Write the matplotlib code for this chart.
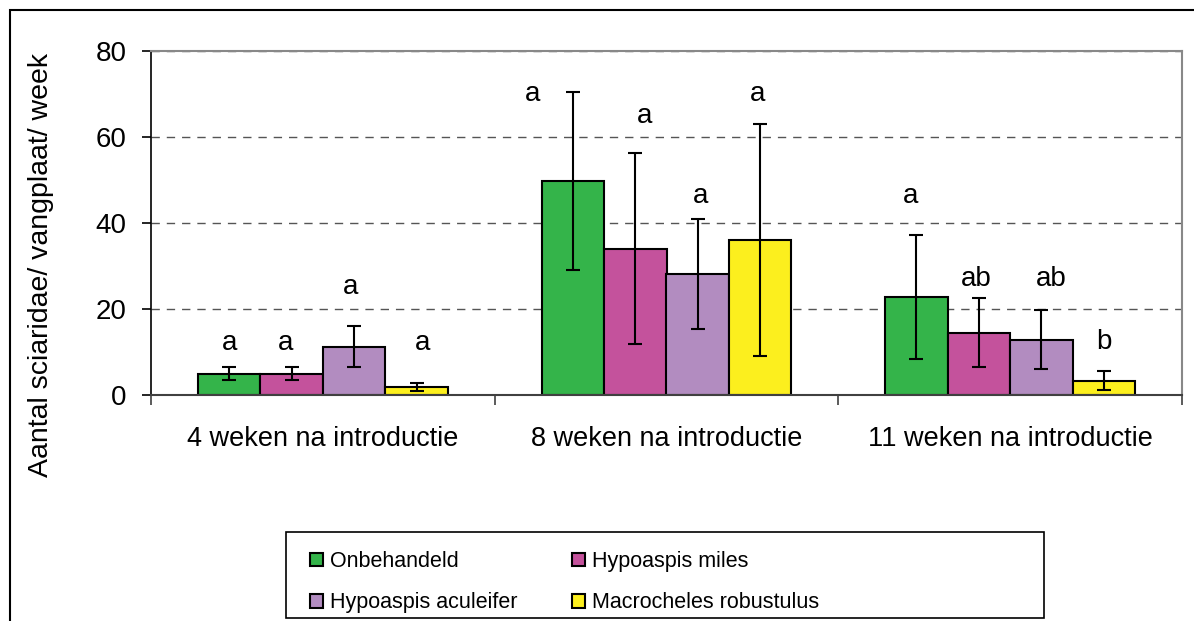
import matplotlib.pyplot as plt
import numpy as np
import matplotlib as mpl
from matplotlib.patches import Rectangle

mpl.rc('font', family=['Liberation Sans', 'DejaVu Sans'], size=20)

# --- data
groups = ['4 weken na introductie', '8 weken na introductie', '11 weken na introductie']
series = ['Onbehandeld', 'Hypoaspis miles', 'Hypoaspis aculeifer', 'Macrocheles robustulus']

onbehandeld = [5.0, 49.7, 22.8]
h_miles = [5.0, 34.0, 14.5]
h_aculeifer = [11.2, 28.1, 12.9]
m_robustulus = [1.8, 36.0, 3.3]

err_onbehandeld = [1.6, 20.7, 14.5]
err_miles = [1.6, 22.2, 8.0]
err_aculeifer = [4.8, 12.8, 6.9]
err_robustulus = [0.9, 27.0, 2.2]

letters_onbehandeld = ['a', 'a', 'a']
letters_miles = ['a', 'a', 'ab']
letters_aculeifer = ['a', 'a', 'ab']
letters_robustulus = ['a', 'a', 'b']

values = [onbehandeld, h_miles, h_aculeifer, m_robustulus]
errors = [err_onbehandeld, err_miles, err_aculeifer, err_robustulus]
letters = [letters_onbehandeld, letters_miles, letters_aculeifer, letters_robustulus]
colors = ['#34B44A', '#C4529C', '#B28CC0', '#FCEF1E']

# letter placement (layout only): x shift in bar widths, baseline height
letter_dx = [[0.0, -0.65, -0.1], [-0.1, 0.15, -0.05], [-0.05, 0.05, 0.15], [0.1, -0.05, 0.0]]
letter_y = [[10.5, 68.4, 44.7], [10.5, 63.2, 25.3], [23.4, 44.7, 25.3], [10.5, 68.4, 10.6]]

fig = plt.figure(figsize=(11.94, 6.21), dpi=100)
ax = fig.add_axes([151 / 1194, 1 - 395 / 621, 1031 / 1194, 344 / 621])

x = np.arange(len(groups))
w = 1 / 5.5
handles = []
for i in range(4):
    xs = x + (i - 1.5) * w
    b = ax.bar(xs, values[i], width=w, color=colors[i], edgecolor='black',
               linewidth=1.5, zorder=2, label=series[i])
    ax.errorbar(xs, values[i], yerr=errors[i], fmt='none', ecolor='black',
                elinewidth=1.5, capsize=5, capthick=1.5, zorder=3)
    handles.append(b)
    for j in range(3):
        ax.text(xs[j] + letter_dx[i][j] * w, letter_y[i][j], letters[i][j],
                ha='center', va='baseline', fontsize=20)

ax.set_xlim(-0.5, 2.5)
ax.set_ylim(0, 80)
ax.set_yticks(np.arange(0, 81, 20))
ax.set_xticks([-0.5, 0.5, 1.5, 2.5])
ax.set_xticklabels([])
ax.set_xticks(x, minor=True)
ax.set_xticklabels(groups, minor=True)
ax.tick_params(axis='x', which='major', direction='out', length=7, width=1.2, color='#404040')
ax.tick_params(axis='x', which='minor', length=0, pad=22, labelsize=19.5)
ax.tick_params(axis='y', direction='out', length=6.5, width=1.2, pad=11, labelsize=20)

ax.yaxis.grid(True, linestyle=(0, (6, 5)), color='#555555', linewidth=1)
ax.set_axisbelow(True)

ax.spines['left'].set_color('black')
ax.spines['left'].set_linewidth(1.2)
ax.spines['bottom'].set_color('#404040')
ax.spines['bottom'].set_linewidth(1.5)
for s in ['top', 'right']:
    ax.spines[s].set_color('#888888')
    ax.spines[s].set_linewidth(1.5)

ax.set_ylabel('Aantal sciaridae/ vangplaat/ week', fontsize=20.5, va='center')
ax.yaxis.set_label_coords(-0.107, 0.378)

# legend: two single-column legends inside a hand-drawn box
leg_kw = dict(loc='upper left', ncol=1, prop={'size': 15.5},
              handlelength=0.6, handleheight=0.6, handletextpad=0.35,
              labelspacing=0.95, borderpad=0, borderaxespad=0, frameon=False)
fig.legend([handles[0], handles[2]], [series[0], series[2]],
           bbox_to_anchor=(310 / 1194, 1 - 551 / 621), **leg_kw)
fig.legend([handles[1], handles[3]], [series[1], series[3]],
           bbox_to_anchor=(572 / 1194, 1 - 551 / 621), **leg_kw)
fig.patches.append(Rectangle((286 / 1194, 1 - 618 / 621), 758 / 1194, 86 / 621,
                             transform=fig.transFigure, fill=False,
                             edgecolor='black', linewidth=1.2))

# outer chart frame (right and bottom run off the picture)
fig.patches.append(Rectangle((10 / 1194, -0.1), 1.2, 1 - 10 / 621 + 0.1,
                             transform=fig.transFigure, fill=False,
                             edgecolor='black', linewidth=1.5))

plt.savefig('out.png', dpi=100)
